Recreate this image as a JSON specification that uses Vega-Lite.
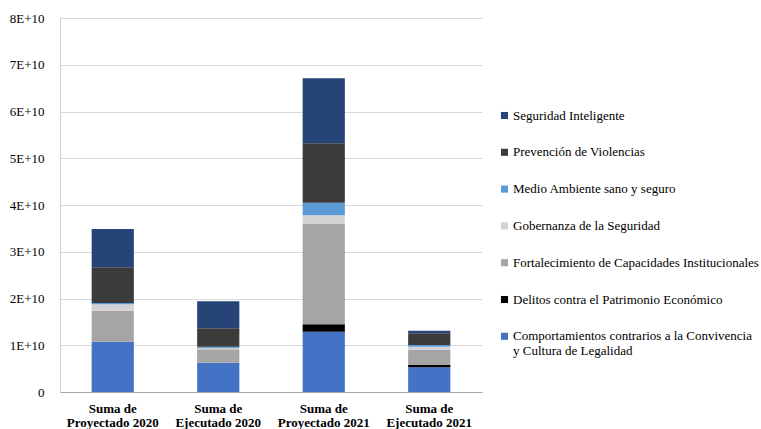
{
  "$schema": "https://vega.github.io/schema/vega-lite/v6.json",
  "autosize": {"type": "none"},
  "padding": {"left": 60, "top": 18, "right": 279, "bottom": 37},
  "width": 422,
  "height": 374,
  "background": "white",
  "config": {
    "font": "Liberation Serif",
    "view": {"stroke": null},
    "legend": {"labelFont": "Liberation Serif"},
    "axis": {"labelFont": "Liberation Serif"}
  },
  "data": {
    "values": [
      {"cat": "Suma de Proyectado 2020", "serie": "Comportamientos contrarios a la Convivencia y Cultura de Legalidad", "valor": 10760000000},
      {"cat": "Suma de Proyectado 2020", "serie": "Delitos contra el Patrimonio Económico", "valor": 0},
      {"cat": "Suma de Proyectado 2020", "serie": "Fortalecimiento de Capacidades Institucionales", "valor": 6630000000},
      {"cat": "Suma de Proyectado 2020", "serie": "Gobernanza de la Seguridad", "valor": 1360000000},
      {"cat": "Suma de Proyectado 2020", "serie": "Medio Ambiente sano y seguro", "valor": 300000000},
      {"cat": "Suma de Proyectado 2020", "serie": "Prevención de Violencias", "valor": 7630000000},
      {"cat": "Suma de Proyectado 2020", "serie": "Seguridad Inteligente", "valor": 8200000000},
      {"cat": "Suma de Ejecutado 2020", "serie": "Comportamientos contrarios a la Convivencia y Cultura de Legalidad", "valor": 6270000000},
      {"cat": "Suma de Ejecutado 2020", "serie": "Delitos contra el Patrimonio Económico", "valor": 0},
      {"cat": "Suma de Ejecutado 2020", "serie": "Fortalecimiento de Capacidades Institucionales", "valor": 2860000000},
      {"cat": "Suma de Ejecutado 2020", "serie": "Gobernanza de la Seguridad", "valor": 280000000},
      {"cat": "Suma de Ejecutado 2020", "serie": "Medio Ambiente sano y seguro", "valor": 280000000},
      {"cat": "Suma de Ejecutado 2020", "serie": "Prevención de Violencias", "valor": 3930000000},
      {"cat": "Suma de Ejecutado 2020", "serie": "Seguridad Inteligente", "valor": 5780000000},
      {"cat": "Suma de Proyectado 2021", "serie": "Comportamientos contrarios a la Convivencia y Cultura de Legalidad", "valor": 12900000000},
      {"cat": "Suma de Proyectado 2021", "serie": "Delitos contra el Patrimonio Económico", "valor": 1580000000},
      {"cat": "Suma de Proyectado 2021", "serie": "Fortalecimiento de Capacidades Institucionales", "valor": 21520000000},
      {"cat": "Suma de Proyectado 2021", "serie": "Gobernanza de la Seguridad", "valor": 1800000000},
      {"cat": "Suma de Proyectado 2021", "serie": "Medio Ambiente sano y seguro", "valor": 2700000000},
      {"cat": "Suma de Proyectado 2021", "serie": "Prevención de Violencias", "valor": 12700000000},
      {"cat": "Suma de Proyectado 2021", "serie": "Seguridad Inteligente", "valor": 13900000000},
      {"cat": "Suma de Ejecutado 2021", "serie": "Comportamientos contrarios a la Convivencia y Cultura de Legalidad", "valor": 5280000000},
      {"cat": "Suma de Ejecutado 2021", "serie": "Delitos contra el Patrimonio Económico", "valor": 500000000},
      {"cat": "Suma de Ejecutado 2021", "serie": "Fortalecimiento de Capacidades Institucionales", "valor": 3200000000},
      {"cat": "Suma de Ejecutado 2021", "serie": "Gobernanza de la Seguridad", "valor": 710000000},
      {"cat": "Suma de Ejecutado 2021", "serie": "Medio Ambiente sano y seguro", "valor": 360000000},
      {"cat": "Suma de Ejecutado 2021", "serie": "Prevención de Violencias", "valor": 2500000000},
      {"cat": "Suma de Ejecutado 2021", "serie": "Seguridad Inteligente", "valor": 560000000}
    ]
  },
  "mark": {"type": "bar"},
  "encoding": {
    "x": {
      "field": "cat",
      "type": "nominal",
      "sort": ["Suma de Proyectado 2020", "Suma de Ejecutado 2020", "Suma de Proyectado 2021", "Suma de Ejecutado 2021"],
      "scale": {"paddingInner": 0.6, "paddingOuter": 0.3},
      "axis": {
        "title": null,
        "labelAngle": 0,
        "labelExpr": "['Suma de', replace(datum.label, 'Suma de ', '')]",
        "labelFont": "Liberation Serif",
        "labelFontWeight": "bold",
        "labelFontSize": 13,
        "labelColor": "#000000",
        "labelLineHeight": 14,
        "labelPadding": 10,
        "labelBaseline": "top",
        "ticks": false,
        "domainColor": "#a6a6a6",
        "domainWidth": 1.2
      }
    },
    "y": {
      "field": "valor",
      "type": "quantitative",
      "stack": "zero",
      "scale": {"domain": [0, 80000000000], "nice": false},
      "axis": {
        "title": null,
        "values": [0, 10000000000, 20000000000, 30000000000, 40000000000, 50000000000, 60000000000, 70000000000, 80000000000],
        "labelExpr": "datum.value == 0 ? '0' : format(datum.value / 1e10, 'd') + 'E+10'",
        "labelFont": "Liberation Serif",
        "labelFontSize": 13,
        "labelColor": "#000000",
        "labelPadding": 16,
        "ticks": false,
        "domainColor": "#d0d0d0",
        "gridColor": "#d9d9d9",
        "gridWidth": 1.2
      }
    },
    "color": {
      "field": "serie",
      "type": "nominal",
      "scale": {
        "domain": [
          "Seguridad Inteligente",
          "Prevención de Violencias",
          "Medio Ambiente sano y seguro",
          "Gobernanza de la Seguridad",
          "Fortalecimiento de Capacidades Institucionales",
          "Delitos contra el Patrimonio Económico",
          "Comportamientos contrarios a la Convivencia y Cultura de Legalidad"
        ],
        "range": ["#264478", "#3b3b3b", "#5b9bd5", "#d3d3d3", "#a5a5a5", "#000000", "#4472c4"]
      },
      "legend": {
        "title": null,
        "orient": "none",
        "legendX": 438,
        "legendY": 91,
        "symbolType": "square",
        "symbolSize": 50,
        "symbolStrokeWidth": 0,
        "labelFont": "Liberation Serif",
        "labelFontSize": 13,
        "labelColor": "#000000",
        "labelOffset": 2,
        "labelLimit": 400,
        "rowPadding": 22.8,
        "labelExpr": "datum.label == 'Comportamientos contrarios a la Convivencia y Cultura de Legalidad' ? ['Comportamientos contrarios a la Convivencia', 'y Cultura de Legalidad'] : datum.label"
      }
    },
    "order": {"field": "serie", "sort": "ascending"}
  }
}
